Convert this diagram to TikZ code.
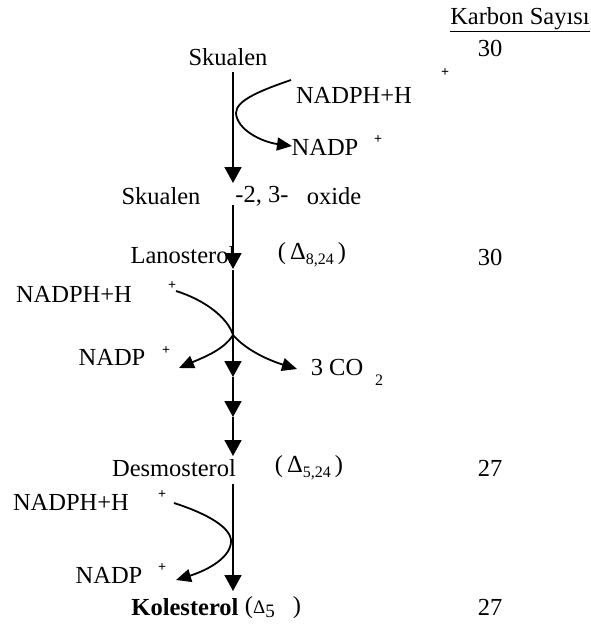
\documentclass[tikz,border=0pt]{standalone}
\usepackage{fontspec}
\setmainfont{Liberation Serif}
\usetikzlibrary{arrows.meta}
\newcommand{\sbs}[1]{\raisebox{-5pt}{\fontsize{16}{16}\selectfont #1}}
\begin{document}
\begin{tikzpicture}[x=1pt,y=-1pt,
  lbl/.style={inner sep=0pt,font=\fontsize{24.5}{28}\selectfont},
  plus/.style={inner sep=0pt,font=\fontsize{14}{14}\selectfont\bfseries},
  flow/.style={line width=1.8pt,-{Triangle[length=16pt,width=17pt]}},
  side/.style={line width=1.8pt,-{Triangle[length=15pt,width=13pt]}}]
\useasboundingbox[fill=white] (0,0) rectangle (590,632);

% column header and carbon counts
\node[lbl] (head) at (520,20) {\underline{Karbon Sayısı}};
\node[lbl] (n1) at (490,48) {30};
\node[lbl] (n2) at (490,257) {30};
\node[lbl] (n3) at (490,468) {27};
\node[lbl] (n4) at (490,607) {27};

% squalene
\node[lbl] (sk) at (228,57) {Skualen};
\node[lbl] (nadph1) at (354,95) {NADPH+H};
\node[plus] (p1) at (445,73) {+};
\node[lbl] (nadp1) at (325,147) {NADP};
\node[plus] (p2) at (378,140) {+};

% squalene-2,3-oxide
\node[lbl] (ox1) at (161,196) {Skualen};
\node[lbl] (ox2) at (262,196) {-2, 3-};
\node[lbl] (ox3) at (334,196) {oxide};

% lanosterol
\node[lbl] (lan) at (183,255) {Lanosterol};
\node[lbl] (lanD) at (312,255) {(\,Δ\sbs{8,24}\,)};
\node[lbl] (nadph2) at (74,294) {NADPH+H};
\node[plus] (p3) at (172,286) {+};
\node[lbl] (nadp2) at (112,357) {NADP};
\node[plus] (p4) at (166,351) {+};
\node[lbl] (co2) at (337,368) {3 CO};
\node[inner sep=0pt,font=\fontsize{16}{16}\selectfont] (co2s) at (379,380) {2};

% desmosterol
\node[lbl] (des) at (174,468) {Desmosterol};
\node[lbl] (desD) at (309,468) {(\,Δ\sbs{5,24}\,)};
\node[lbl] (nadph3) at (71,502) {NADPH+H};
\node[plus] (p5) at (162,495) {+};
\node[lbl] (nadp3) at (109,575) {NADP};
\node[plus] (p6) at (162,568) {+};

% cholesterol
\node[lbl,font=\fontsize{24.5}{28}\selectfont\bfseries] (kol) at (185,607) {Kolesterol};
\node[lbl] (kolD) at (273,608) {({\fontsize{19}{19}\selectfont Δ\raisebox{-4pt}{5}}\hspace{18pt})};

% points on the main axis
\coordinate (a0) at (233,72);
\coordinate (a1) at (233,183);
\coordinate (b0) at (233,205);
\coordinate (b1) at (233,269);
\coordinate (c0) at (233,270);
\coordinate (c1) at (233,377);
\coordinate (c2) at (233,417);
\coordinate (c3) at (233,456);
\coordinate (d0) at (233,484);
\coordinate (d1) at (233,591);

\draw[flow] (a0) -- (a1);
\draw[flow] (b0) -- (b1);
\draw[flow] (c0) -- (c1);
\draw[flow] (c1) -- (c2);
\draw[flow] (c2) -- (c3);
\draw[flow] (d0) -- (d1);

% cofactor curves
\coordinate (s1) at (291,80);
\coordinate (j1) at (236,113);
\coordinate (e1) at (292,146);
\draw[side] (s1) .. controls (262,90) and (236,100) .. (j1)
                 .. controls (237,130) and (262,142) .. (e1);

\coordinate (s2) at (176,291);
\coordinate (j2) at (233,335);
\coordinate (e2l) at (179,368);
\coordinate (e2r) at (297,369);
\draw[line width=1.8pt] (s2) .. controls (205,300) and (228,318) .. (j2);
\draw[side] (j2) .. controls (224,350) and (202,358) .. (e2l);
\draw[side] (j2) .. controls (246,350) and (268,360) .. (e2r);

\coordinate (s3) at (174,503);
\coordinate (j3) at (231,542);
\coordinate (e3) at (176,580);
\draw[side] (s3) .. controls (208,514) and (232,528) .. (j3)
                 .. controls (230,560) and (202,572) .. (e3);
\end{tikzpicture}
\end{document}
